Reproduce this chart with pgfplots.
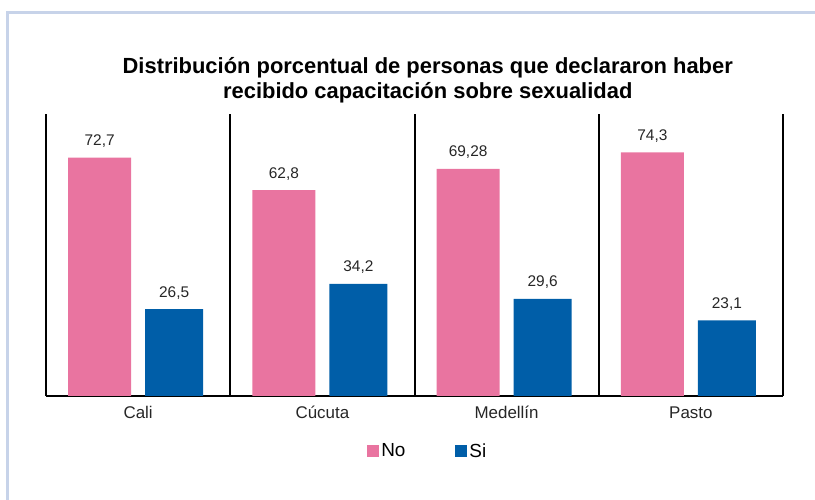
\documentclass[border=0pt]{standalone}
\usepackage{fontspec}
\setmainfont{Liberation Sans}
\usepackage{pgfplots}
\pgfplotsset{compat=1.18}
\definecolor{rosa}{HTML}{E974A0}
\definecolor{azul}{HTML}{005EA8}
\definecolor{marco}{HTML}{C7D3E9}

\begin{document}
\begin{tikzpicture}
\useasboundingbox (0,0) rectangle (815bp,500bp);
\draw[marco, line width=3bp] (7bp,0) -- (7bp,487bp) -- (815bp,487bp);
\begin{axis}[
    at={(46bp,104bp)}, anchor=south west,
    scale only axis, width=737bp, height=282bp,
    xmin=-0.5, xmax=3.5, ymin=0, ymax=86,
    axis x line=bottom, axis y line=none,
    axis line style={black, line width=2bp, -},
    xtick={0,1,2,3},
    xticklabels={Cali, Cúcuta, Medellín, Pasto},
    major tick length=0pt,
    x tick label style={font=\fontsize{17}{20}\selectfont, anchor=base, yshift=-22bp, text=black!85},
    extra x ticks={-0.5,0.5,1.5,2.5,3.5},
    extra x tick labels={},
    extra x tick style={grid=major, major grid style={black, line width=2bp}},
    ytick=\empty,
    ybar,
    nodes near coords,
    point meta=explicit symbolic,
    every node near coord/.append style={font=\fontsize{15.5}{18}\selectfont, anchor=base, yshift=12bp, text=black!85},
    title={Distribución porcentual de personas que declararon haber\\recibido capacitación sobre sexualidad},
    title style={at={(0.518,1)}, anchor=south, yshift=1bp, align=center, font=\bfseries\fontsize{22}{26}\selectfont},
    legend columns=2,
    legend style={at={(0.518,0)}, anchor=center, yshift=-55bp, draw=none, fill=none,
        font=\fontsize{19}{22}\selectfont,
        /tikz/every even column/.append style={column sep=48bp}},
    legend image code/.code={\fill[#1, draw=none] (-2bp,-6bp) rectangle (10bp,6bp);},
]
% No
\addplot[fill=rosa, draw=none, bar width=63bp, bar shift=-38.5bp] coordinates {
    (0,72.7) [72,7] (1,62.8) [62,8] (2,69.28) [69,28] (3,74.3) [74,3]
};
% Si
\addplot[fill=azul, draw=none, bar width=58bp, bar shift=36bp] coordinates {
    (0,26.5) [26,5] (1,34.2) [34,2] (2,29.6) [29,6] (3,23.1) [23,1]
};
\legend{No, Si}
\end{axis}
\end{tikzpicture}
\end{document}
